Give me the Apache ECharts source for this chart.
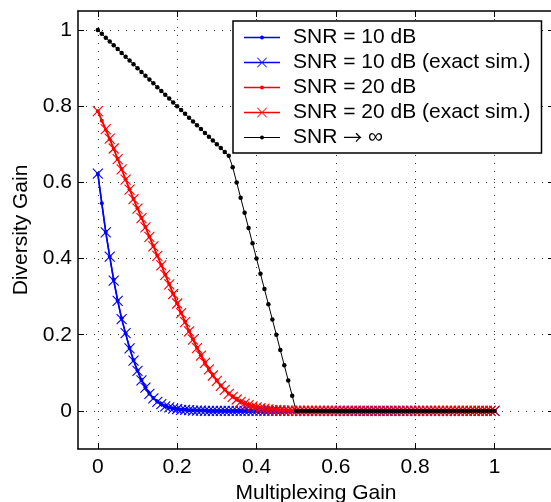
<!DOCTYPE html>
<html><head><meta charset="utf-8">
<script src="https://cdn.jsdelivr.net/npm/echarts@6/dist/echarts.min.js"></script>
<style>html,body{margin:0;padding:0;background:#fff}#c{width:551px;height:502px}</style>
</head><body><div id="c"></div><script>
const rValues = [
0,0.01,0.02,0.03,0.04,0.05,0.06,0.07,0.08,0.09,
0.1,0.11,0.12,0.13,0.14,0.15,0.16,0.17,0.18,0.19,
0.2,0.21,0.22,0.23,0.24,0.25,0.26,0.27,0.28,0.29,
0.3,0.31,0.32,0.33,0.34,0.35,0.36,0.37,0.38,0.39,
0.4,0.41,0.42,0.43,0.44,0.45,0.46,0.47,0.48,0.49,
0.5,0.51,0.52,0.53,0.54,0.55,0.56,0.57,0.58,0.59,
0.6,0.61,0.62,0.63,0.64,0.65,0.66,0.67,0.68,0.69,
0.7,0.71,0.72,0.73,0.74,0.75,0.76,0.77,0.78,0.79,
0.8,0.81,0.82,0.83,0.84,0.85,0.86,0.87,0.88,0.89,
0.9,0.91,0.92,0.93,0.94,0.95,0.96,0.97,0.98,0.99,
1];
const snr10 = [
0.622,0.545,0.470,0.405,0.345,0.290,0.243,0.203,0.166,0.134,
0.106,0.082,0.062,0.046,0.034,0.025,0.018,0.013,0.009,0.007,
0.005,0.004,0.003,0.002,0.002,0.001,0.001,0.001,0,0,
0,0,0,0,0,0,0,0,0,0,
0,0,0,0,0,0,0,0,0,0,
0,0,0,0,0,0,0,0,0,0,
0,0,0,0,0,0,0,0,0,0,
0,0,0,0,0,0,0,0,0,0,
0,0,0,0,0,0,0,0,0,0,
0,0,0,0,0,0,0,0,0,0,
0];
const snr10Sim = [
0.623,null,0.469,0.405,0.342,0.289,0.241,0.204,0.164,0.132,
0.105,0.080,0.061,0.045,0.033,0.024,0.018,0.012,0.009,0.006,
0.005,0.003,0.003,0.002,0.001,0.001,0.001,0,0,0,
0,0,0,0,0,0,0,0,0,0,
0,0,0,0,0,0,0,0,0,0,
0,0,0,0,0,0,0,0,0,0,
0,0,0,0,0,0,0,0,0,0,
0,0,0,0,0,0,0,0,0,0,
0,0,0,0,0,0,0,0,0,0,
0,0,0,0,0,0,0,0,0,0,
0];
const snr20 = [
0.787,0.762,0.738,0.713,0.688,0.662,0.635,0.608,0.582,0.557,
0.532,0.507,0.483,0.458,0.433,0.408,0.383,0.358,0.333,0.308,
0.283,0.258,0.234,0.210,0.188,0.166,0.146,0.127,0.110,0.094,
0.080,0.067,0.056,0.046,0.038,0.031,0.025,0.020,0.016,0.013,
0.010,0.008,0.006,0.005,0.004,0.003,0.002,0.002,0.001,0.001,
0.001,0,0,0,0,0,0,0,0,0,
0,0,0,0,0,0,0,0,0,0,
0,0,0,0,0,0,0,0,0,0,
0,0,0,0,0,0,0,0,0,0,
0,0,0,0,0,0,0,0,0,0,
0];
const snr20Sim = [
0.787,null,0.740,0.715,0.689,0.661,0.634,0.607,0.581,0.556,
0.531,0.506,0.482,0.457,0.432,0.407,0.382,0.357,0.332,0.307,
0.282,0.257,0.233,0.209,0.187,0.165,0.145,0.126,0.109,0.093,
0.079,0.066,0.055,0.045,0.037,0.030,0.024,0.019,0.015,0.012,
0.009,0.007,0.006,0.004,0.003,0.003,0.002,0.001,0.001,0.001,
0,0,0,0,0,0,0,0,0,0,
0,0,0,0,0,0,0,0,0,0,
0,0,0,0,0,0,0,0,0,0,
0,0,0,0,0,0,0,0,0,0,
0,0,0,0,0,0,0,0,0,0,
0];
const snrInf = [
1,0.99,0.98,0.97,0.96,0.95,0.94,0.93,0.92,0.91,
0.9,0.89,0.88,0.87,0.86,0.85,0.84,0.83,0.82,0.81,
0.8,0.79,0.78,0.77,0.76,0.75,0.74,0.73,0.72,0.71,
0.7,0.69,0.68,0.67,0.64,0.6,0.56,0.52,0.48,0.44,
0.4,0.36,0.32,0.28,0.24,0.2,0.16,0.12,0.08,0.04,
0,0,0,0,0,0,0,0,0,0,
0,0,0,0,0,0,0,0,0,0,
0,0,0,0,0,0,0,0,0,0,
0,0,0,0,0,0,0,0,0,0,
0,0,0,0,0,0,0,0,0,0,
0];
const xTicks = [0, 0.2, 0.4, 0.6, 0.8, 1];
const yTicks = [0, 0.2, 0.4, 0.6, 0.8, 1];
const seriesNames = ['SNR = 10 dB', 'SNR = 10 dB (exact sim.)', 'SNR = 20 dB', 'SNR = 20 dB (exact sim.)', 'SNR \u2192 \u221e'];
const xAxisTitle = 'Multiplexing Gain';
const yAxisTitle = 'Diversity Gain';

const FONT = "'Liberation Sans', Arial, Helvetica, sans-serif";
const BLUE = '#0000ff', RED = '#ff0000', BLACK = '#000000';
const crossSym = 'path://M0,0L10,10M10,0L0,10';
const corners = 'M0,0L0.01,0L0,0.01Z M36,10L35.99,10L36,9.99Z ';
const dotIcon = 'path://' + corners + 'M0,4.25L36,4.25L36,5.75L0,5.75Z M16,5A2,2 0 1,1 20,5A2,2 0 1,1 16,5Z';
const thinDotIcon = 'path://' + corners + 'M0,4.5L36,4.5L36,5.5L0,5.5Z M16,5A2,2 0 1,1 20,5A2,2 0 1,1 16,5Z';
const crossIcon = 'path://' + corners + 'M0,4.25L36,4.25L36,5.75L0,5.75Z M13,0.6L13.6,0L23,9.4L22.4,10Z M22.4,0L23,0.6L13.6,10L13,9.4Z';

function pairs(ys) { return rValues.map((x, i) => [x, ys[i]]); }

function dotSeries(name, ys, color, lw, size) {
  return { name, type: 'line', data: pairs(ys), symbol: 'circle', symbolSize: size,
    showSymbol: true, showAllSymbol: true, connectNulls: true, silent: true, animation: false,
    lineStyle: { color, width: lw }, itemStyle: { color, borderWidth: 0 } };
}
function crossSeries(name, ys, color) {
  return { name, type: 'line', data: pairs(ys), symbol: crossSym, symbolSize: 10,
    showSymbol: true, showAllSymbol: true, connectNulls: true, silent: true, animation: false,
    lineStyle: { color, width: 1.5 }, itemStyle: { color, borderColor: color, borderWidth: 1.1 } };
}

const labelStyle = { fontSize: 21, fontFamily: FONT, color: '#000' };
function mkX(pos, main) {
  return { type: 'value', min: -0.05, max: 1.15, position: pos,
    axisLine: { show: true, onZero: false, lineStyle: { color: '#000', width: 1.5 } },
    axisTick: { show: true, inside: true, length: 6, customValues: xTicks, lineStyle: { color: '#000', width: 1 } },
    axisLabel: main ? Object.assign({ show: true, customValues: xTicks, margin: 8 }, labelStyle) : { show: false },
    splitLine: main ? { show: true, lineStyle: { type: [1, 7], color: '#333', width: 1 } } : { show: false },
    name: main ? xAxisTitle : '', nameLocation: 'middle', nameGap: 31,
    nameTextStyle: labelStyle };
}
function mkY(pos, main) {
  return { type: 'value', min: -0.1, max: 1.05, position: pos,
    axisLine: { show: true, onZero: false, lineStyle: { color: '#000', width: 1.5 } },
    axisTick: { show: true, inside: true, length: 6, customValues: yTicks, lineStyle: { color: '#000', width: 1 } },
    axisLabel: main ? Object.assign({ show: true, customValues: yTicks, margin: 6 }, labelStyle) : { show: false },
    splitLine: main ? { show: true, lineStyle: { type: [1, 7], color: '#333', width: 1 } } : { show: false },
    name: main ? yAxisTitle : '', nameLocation: 'middle', nameGap: 46,
    nameTextStyle: labelStyle };
}

const chart = echarts.init(document.getElementById('c'), null, { renderer: 'canvas' });
chart.setOption({
  animation: false,
  backgroundColor: '#fff',
  grid: { left: 78, top: 11, width: 476, bottom: 53, containLabel: false, outerBoundsMode: 'none' },
  xAxis: [mkX('bottom', true), mkX('top', false)],
  yAxis: [mkY('left', true), mkY('right', false)],
  legend: {
    orient: 'vertical', left: 233, top: 21, padding: [6, 11, 5, 11],
    itemWidth: 36, itemHeight: 10, itemGap: 4,
    backgroundColor: '#fff', borderColor: '#000', borderWidth: 1.5, borderRadius: 0,
    selectedMode: false,
    itemStyle: { borderWidth: 0 },
    formatter: function (name) {
      if (name === seriesNames[4]) return 'SNR {arr|\u2192} \u221e';
      return name;
    },
    textStyle: { fontSize: 21, fontFamily: FONT, color: '#000', lineHeight: 21, padding: [0, 0, 0, 8],
      rich: { arr: { fontSize: 19, fontFamily: "'Noto Sans CJK SC', 'DejaVu Sans', sans-serif", color: '#000', lineHeight: 21 } } },
    data: [
      { name: seriesNames[0], icon: dotIcon, itemStyle: { color: BLUE, borderWidth: 0 } },
      { name: seriesNames[1], icon: crossIcon, itemStyle: { color: BLUE, borderWidth: 0 } },
      { name: seriesNames[2], icon: dotIcon, itemStyle: { color: RED, borderWidth: 0 } },
      { name: seriesNames[3], icon: crossIcon, itemStyle: { color: RED, borderWidth: 0 } },
      { name: seriesNames[4], icon: thinDotIcon, itemStyle: { color: BLACK, borderWidth: 0 } }
    ]
  },
  series: [
    dotSeries(seriesNames[0], snr10, BLUE, 1.5, 4),
    crossSeries(seriesNames[1], snr10Sim, BLUE),
    dotSeries(seriesNames[2], snr20, RED, 1.5, 4),
    crossSeries(seriesNames[3], snr20Sim, RED),
    dotSeries(seriesNames[4], snrInf, BLACK, 1, 4.5)
  ]
});
</script></body></html>
